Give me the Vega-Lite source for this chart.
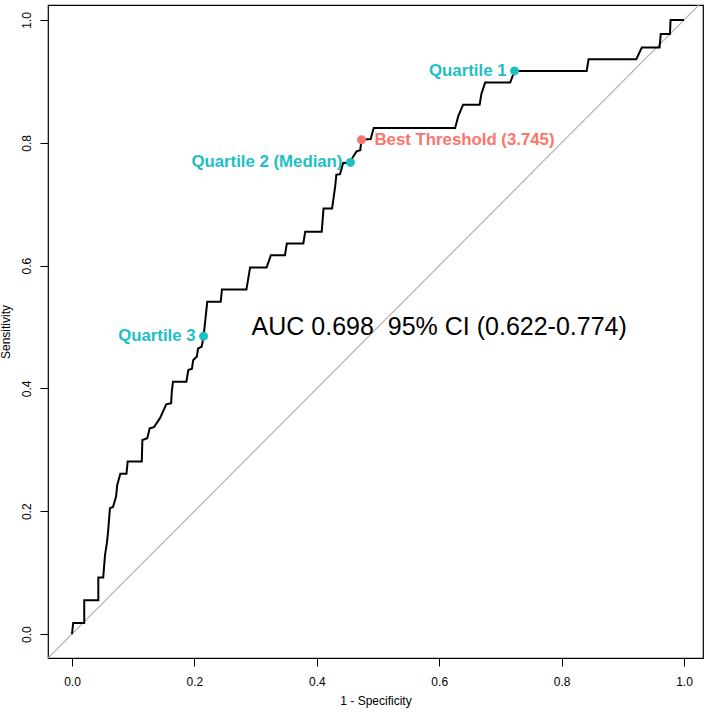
{
  "$schema": "https://vega.github.io/schema/vega-lite/v6.json",
  "width": 655,
  "height": 653,
  "autosize": {"type": "none"},
  "padding": {"left": 48, "top": 5, "right": 6, "bottom": 54},
  "background": "white",
  "config": {
    "view": {"stroke": "black", "strokeWidth": 1.2},
    "font": "Liberation Sans",
    "axis": {
      "domain": false,
      "grid": false,
      "tickColor": "black",
      "tickSize": 8,
      "tickWidth": 1,
      "labelColor": "black",
      "labelFontSize": 12,
      "labelFont": "Liberation Sans",
      "titleFont": "Liberation Sans",
      "titleFontSize": 12,
      "titleFontWeight": "normal",
      "titleColor": "black"
    }
  },
  "datasets": {
    "roc": [
      {"i": 0, "fpr": 0.0, "tpr": 0.0},
      {"i": 1, "fpr": 0.002, "tpr": 0.018},
      {"i": 2, "fpr": 0.020, "tpr": 0.018},
      {"i": 3, "fpr": 0.020, "tpr": 0.055},
      {"i": 4, "fpr": 0.043, "tpr": 0.055},
      {"i": 5, "fpr": 0.043, "tpr": 0.092},
      {"i": 6, "fpr": 0.051, "tpr": 0.092},
      {"i": 7, "fpr": 0.054, "tpr": 0.129},
      {"i": 8, "fpr": 0.057, "tpr": 0.148},
      {"i": 9, "fpr": 0.059, "tpr": 0.167},
      {"i": 10, "fpr": 0.062, "tpr": 0.205},
      {"i": 11, "fpr": 0.067, "tpr": 0.207},
      {"i": 12, "fpr": 0.072, "tpr": 0.224},
      {"i": 13, "fpr": 0.074, "tpr": 0.243},
      {"i": 14, "fpr": 0.079, "tpr": 0.261},
      {"i": 15, "fpr": 0.089, "tpr": 0.261},
      {"i": 16, "fpr": 0.091, "tpr": 0.281},
      {"i": 17, "fpr": 0.114, "tpr": 0.281},
      {"i": 18, "fpr": 0.115, "tpr": 0.316},
      {"i": 19, "fpr": 0.123, "tpr": 0.319},
      {"i": 20, "fpr": 0.127, "tpr": 0.335},
      {"i": 21, "fpr": 0.134, "tpr": 0.337},
      {"i": 22, "fpr": 0.144, "tpr": 0.352},
      {"i": 23, "fpr": 0.154, "tpr": 0.374},
      {"i": 24, "fpr": 0.162, "tpr": 0.376},
      {"i": 25, "fpr": 0.163, "tpr": 0.394},
      {"i": 26, "fpr": 0.165, "tpr": 0.411},
      {"i": 27, "fpr": 0.187, "tpr": 0.411},
      {"i": 28, "fpr": 0.190, "tpr": 0.430},
      {"i": 29, "fpr": 0.196, "tpr": 0.432},
      {"i": 30, "fpr": 0.198, "tpr": 0.446},
      {"i": 31, "fpr": 0.204, "tpr": 0.452},
      {"i": 32, "fpr": 0.206, "tpr": 0.465},
      {"i": 33, "fpr": 0.212, "tpr": 0.468},
      {"i": 34, "fpr": 0.215, "tpr": 0.485},
      {"i": 35, "fpr": 0.217, "tpr": 0.503},
      {"i": 36, "fpr": 0.221, "tpr": 0.541},
      {"i": 37, "fpr": 0.243, "tpr": 0.541},
      {"i": 38, "fpr": 0.245, "tpr": 0.561},
      {"i": 39, "fpr": 0.285, "tpr": 0.561},
      {"i": 40, "fpr": 0.291, "tpr": 0.597},
      {"i": 41, "fpr": 0.318, "tpr": 0.597},
      {"i": 42, "fpr": 0.325, "tpr": 0.617},
      {"i": 43, "fpr": 0.348, "tpr": 0.617},
      {"i": 44, "fpr": 0.351, "tpr": 0.636},
      {"i": 45, "fpr": 0.378, "tpr": 0.636},
      {"i": 46, "fpr": 0.381, "tpr": 0.655},
      {"i": 47, "fpr": 0.408, "tpr": 0.655},
      {"i": 48, "fpr": 0.411, "tpr": 0.693},
      {"i": 49, "fpr": 0.425, "tpr": 0.693},
      {"i": 50, "fpr": 0.430, "tpr": 0.729},
      {"i": 51, "fpr": 0.432, "tpr": 0.748},
      {"i": 52, "fpr": 0.438, "tpr": 0.749},
      {"i": 53, "fpr": 0.443, "tpr": 0.767},
      {"i": 54, "fpr": 0.455, "tpr": 0.768},
      {"i": 55, "fpr": 0.459, "tpr": 0.777},
      {"i": 56, "fpr": 0.465, "tpr": 0.786},
      {"i": 57, "fpr": 0.471, "tpr": 0.788},
      {"i": 58, "fpr": 0.473, "tpr": 0.805},
      {"i": 59, "fpr": 0.488, "tpr": 0.806},
      {"i": 60, "fpr": 0.493, "tpr": 0.824},
      {"i": 61, "fpr": 0.626, "tpr": 0.824},
      {"i": 62, "fpr": 0.631, "tpr": 0.843},
      {"i": 63, "fpr": 0.639, "tpr": 0.862},
      {"i": 64, "fpr": 0.666, "tpr": 0.862},
      {"i": 65, "fpr": 0.669, "tpr": 0.880},
      {"i": 66, "fpr": 0.675, "tpr": 0.898},
      {"i": 67, "fpr": 0.716, "tpr": 0.898},
      {"i": 68, "fpr": 0.723, "tpr": 0.917},
      {"i": 69, "fpr": 0.841, "tpr": 0.917},
      {"i": 70, "fpr": 0.844, "tpr": 0.936},
      {"i": 71, "fpr": 0.922, "tpr": 0.936},
      {"i": 72, "fpr": 0.931, "tpr": 0.955},
      {"i": 73, "fpr": 0.960, "tpr": 0.955},
      {"i": 74, "fpr": 0.962, "tpr": 0.977},
      {"i": 75, "fpr": 0.977, "tpr": 0.977},
      {"i": 76, "fpr": 0.978, "tpr": 1.0},
      {"i": 77, "fpr": 1.0, "tpr": 1.0}
    ],
    "diag": [
      {"i": 0, "fpr": -0.1, "tpr": -0.1},
      {"i": 1, "fpr": 1.1, "tpr": 1.1}
    ],
    "marks": [
      {"fpr": 0.723, "tpr": 0.917, "kind": "Quartile", "label": "Quartile 1"},
      {"fpr": 0.455, "tpr": 0.768, "kind": "Quartile", "label": "Quartile 2 (Median)"},
      {"fpr": 0.215, "tpr": 0.485, "kind": "Quartile", "label": "Quartile 3"},
      {"fpr": 0.473, "tpr": 0.805, "kind": "Best", "label": "Best Threshold (3.745)"}
    ],
    "auc": [
      {"fpr": 0.6, "tpr": 0.5, "label": "AUC 0.698\u00a0 95% CI (0.622-0.774)"}
    ]
  },
  "encoding": {
    "x": {
      "field": "fpr",
      "type": "quantitative",
      "scale": {"domain": [-0.0392, 1.031], "nice": false, "zero": false},
      "axis": {
        "values": [0, 0.2, 0.4, 0.6, 0.8, 1.0],
        "format": ".1f",
        "title": "1 - Specificity",
        "labelPadding": 10,
        "titlePadding": 8
      }
    },
    "y": {
      "field": "tpr",
      "type": "quantitative",
      "scale": {"domain": [-0.039, 1.0244], "nice": false, "zero": false},
      "axis": {
        "values": [0, 0.2, 0.4, 0.6, 0.8, 1.0],
        "format": ".1f",
        "title": "Sensitivity",
        "labelAngle": -90,
        "labelAlign": "center",
        "labelBaseline": "bottom",
        "labelPadding": 7,
        "titlePadding": 8
      }
    }
  },
  "layer": [
    {
      "data": {"name": "diag"},
      "mark": {"type": "line", "color": "#b3b3b3", "strokeWidth": 1.2, "clip": true},
      "encoding": {"order": {"field": "i", "type": "quantitative"}}
    },
    {
      "data": {"name": "roc"},
      "mark": {"type": "line", "color": "black", "strokeWidth": 2},
      "encoding": {"order": {"field": "i", "type": "quantitative"}}
    },
    {
      "data": {"name": "marks"},
      "mark": {"type": "point", "filled": true, "size": 80, "opacity": 1},
      "encoding": {
        "color": {"field": "kind", "type": "nominal", "scale": {"domain": ["Quartile", "Best"], "range": ["#1DBFC4", "#F8766D"]}, "legend": null}
      }
    },
    {
      "data": {"name": "marks"},
      "transform": [{"filter": "datum.kind === 'Quartile'"}],
      "mark": {"type": "text", "align": "right", "baseline": "middle", "dx": -8, "fontSize": 16.8, "fontWeight": "bold", "font": "Liberation Sans"},
      "encoding": {
        "text": {"field": "label"},
        "color": {"field": "kind", "type": "nominal", "legend": null}
      }
    },
    {
      "data": {"name": "marks"},
      "transform": [{"filter": "datum.kind === 'Best'"}],
      "mark": {"type": "text", "align": "left", "baseline": "middle", "dx": 13, "fontSize": 16.8, "fontWeight": "bold", "font": "Liberation Sans"},
      "encoding": {
        "text": {"field": "label"},
        "color": {"field": "kind", "type": "nominal", "legend": null}
      }
    },
    {
      "data": {"name": "auc"},
      "mark": {"type": "text", "align": "center", "baseline": "middle", "fontSize": 25, "color": "black", "font": "Liberation Sans"},
      "encoding": {"text": {"field": "label"}}
    }
  ]
}
